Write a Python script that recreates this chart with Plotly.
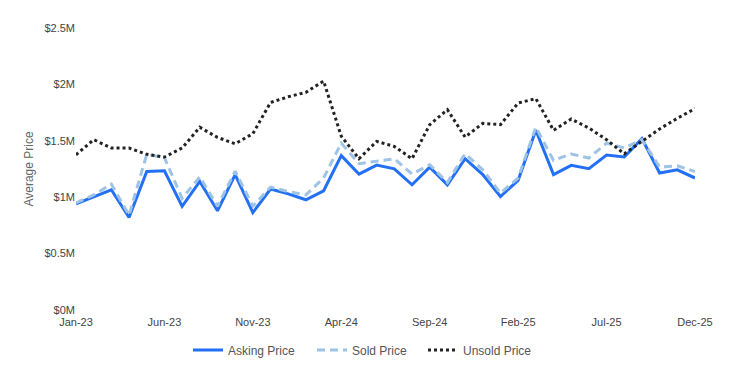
import plotly.graph_objects as go

months = ["Jan-23","Feb-23","Mar-23","Apr-23","May-23","Jun-23","Jul-23","Aug-23","Sep-23","Oct-23","Nov-23","Dec-23",
          "Jan-24","Feb-24","Mar-24","Apr-24","May-24","Jun-24","Jul-24","Aug-24","Sep-24","Oct-24","Nov-24","Dec-24",
          "Jan-25","Feb-25","Mar-25","Apr-25","May-25","Jun-25","Jul-25","Aug-25","Sep-25","Oct-25","Nov-25","Dec-25"]

asking = [0.94, 1.00, 1.066, 0.82, 1.228, 1.234, 0.918, 1.14, 0.88, 1.20, 0.864, 1.072,
          1.03, 0.977, 1.057, 1.368, 1.205, 1.285, 1.252, 1.11, 1.267, 1.11, 1.341, 1.20,
          1.006, 1.15, 1.593, 1.20, 1.282, 1.252, 1.373, 1.356, 1.519, 1.214, 1.243, 1.17]

sold = [0.95, 1.02, 1.116, 0.84, 1.38, 1.35, 0.99, 1.18, 0.92, 1.23, 0.92, 1.09,
        1.05, 1.02, 1.17, 1.48, 1.297, 1.317, 1.34, 1.205, 1.288, 1.13, 1.385, 1.243,
        1.036, 1.17, 1.62, 1.326, 1.383, 1.347, 1.48, 1.436, 1.51, 1.267, 1.279, 1.228]

unsold = [1.376, 1.51, 1.436, 1.436, 1.38, 1.356, 1.436, 1.62, 1.53, 1.474, 1.563, 1.84,
          1.89, 1.93, 2.03, 1.54, 1.341, 1.495, 1.45, 1.341, 1.643, 1.776, 1.533, 1.655,
          1.643, 1.835, 1.874, 1.593, 1.693, 1.613, 1.51, 1.385, 1.495, 1.605, 1.70, 1.785]

y_ticks = [0, 0.5, 1, 1.5, 2, 2.5]
y_labels = ["$0M", "$0.5M", "$1M", "$1.5M", "$2M", "$2.5M"]
x_ticks = ["Jan-23", "Jun-23", "Nov-23", "Apr-24", "Sep-24", "Feb-25", "Jul-25", "Dec-25"]

OFF = 8  # browser default body margin
W, H = 734, 376
L, R, T, B = 76 - OFF, 39 + OFF, 28 - OFF, 66 + OFF
pw, ph = W - L - R, H - T - B

def px_x(x):
    return (x - OFF - L) / pw

def px_y(y):
    return (H - B - (y - OFF)) / ph

fig = go.Figure()
fig.add_trace(go.Scatter(x=months, y=[v * 1e6 for v in asking], name="Asking Price", mode="lines",
                         line=dict(color="#2370f5", width=3), legend="legend"))
fig.add_trace(go.Scatter(x=months, y=[v * 1e6 for v in sold], name="Sold Price", mode="lines",
                         line=dict(color="#9dc3e6", width=3, dash="8px,5px"), legend="legend2"))
fig.add_trace(go.Scatter(x=months, y=[v * 1e6 for v in unsold], name="Unsold Price", mode="lines",
                         line=dict(color="#222222", width=3, dash="dot"), legend="legend3"))

leg_common = dict(orientation="h", xanchor="left", yanchor="middle", y=px_y(350),
                  font=dict(size=12, color="#555555"), bgcolor="rgba(0,0,0,0)", borderwidth=0)

fig.update_layout(
    width=W, height=H,
    margin=dict(l=L, r=R, t=T, b=B),
    paper_bgcolor="white", plot_bgcolor="white",
    font=dict(family="Liberation Sans, Arial, sans-serif", size=11, color="#555555"),
    showlegend=True,
    legend=dict(x=px_x(188), **leg_common),
    legend2=dict(x=px_x(312), **leg_common),
    legend3=dict(x=px_x(423), **leg_common),
    xaxis=dict(type="category", tickmode="array", tickvals=x_ticks, ticktext=x_ticks,
               showgrid=False, zeroline=False, showline=False, ticks="", automargin=False,
               ticklabelstandoff=4,
               range=[0, len(months) - 1], tickfont=dict(size=11, color="#444444")),
    yaxis=dict(tickmode="array", tickvals=[v * 1e6 for v in y_ticks], ticktext=y_labels,
               range=[0, 2.5e6], showgrid=False, zeroline=False, showline=False, ticks="",
               automargin=False,
               title=dict(text="Average Price", font=dict(size=12, color="#666666"), standoff=8),
               tickfont=dict(size=11, color="#444444")),
)

fig.write_html("out.html")
